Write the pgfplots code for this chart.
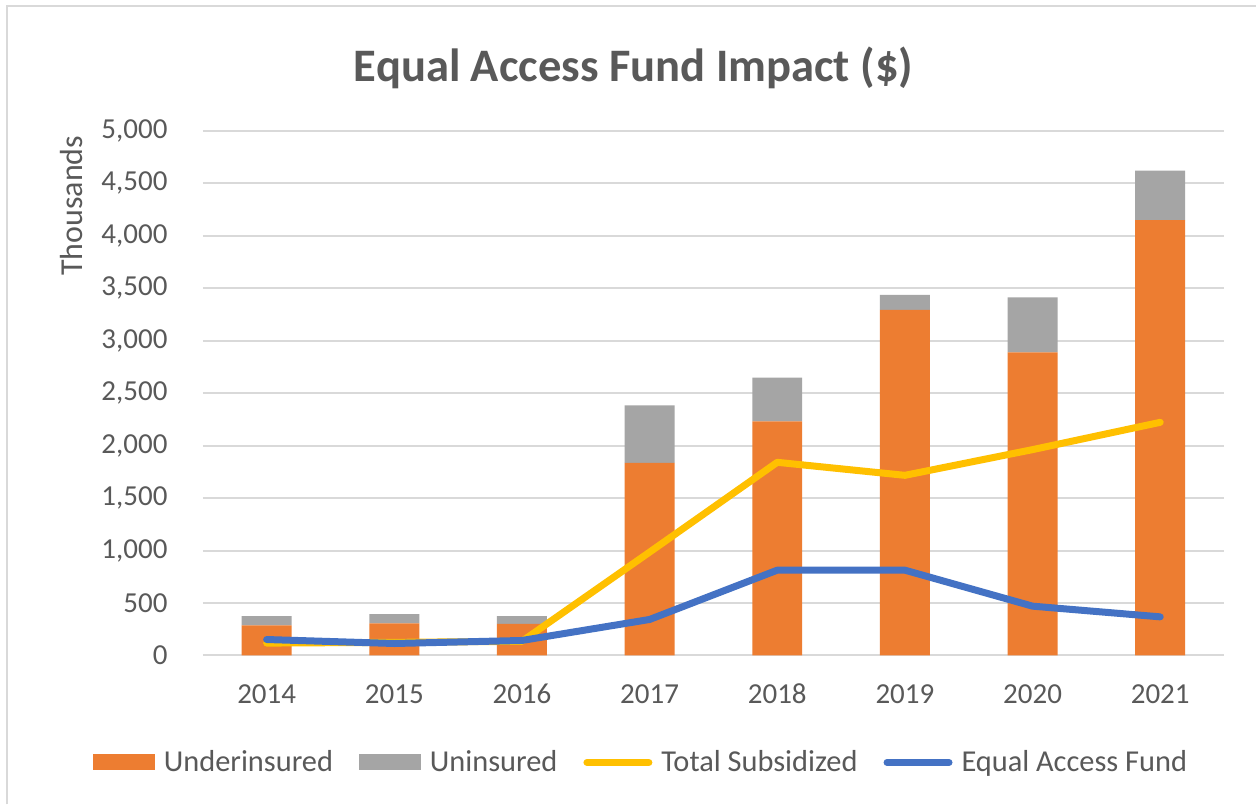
\documentclass[border=0pt]{standalone}
\usepackage{pgfplots}
\pgfplotsset{compat=1.18}
\usepackage{fontspec}
\setmainfont{Carlito}
\definecolor{cOrange}{HTML}{ED7D31}
\definecolor{cGray}{HTML}{A5A5A5}
\definecolor{cYellow}{HTML}{FFC000}
\definecolor{cBlue}{HTML}{4472C4}
\definecolor{cText}{HTML}{595959}
\definecolor{cGrid}{HTML}{D9D9D9}
\definecolor{cFrame}{HTML}{D9D9D9}
\pgfplotsset{
  barlegend/.style={legend image code/.code={\fill[##1] (0pt,-4pt) rectangle (31pt,4pt);}},
  linelegend/.style={legend image code/.code={\draw[##1, line cap=round] (0pt,0pt) -- (31pt,0pt);}},
  common/.style={
    scale only axis, width=511pt, height=262.5pt,
    at={(101.5pt,74.5pt)}, anchor=south west,
    xmin=-0.5, xmax=7.5, ymin=0, ymax=5000,
  }
}
\begin{document}
\begin{tikzpicture}[x=1pt,y=1pt]
\fill[white] (0,0) rectangle (628.5,402.5);
\draw[cFrame, line width=1pt] (3.5,0) -- (3.5,399.5) -- (628.5,399.5);
\node[text=cText, font=\fontsize{23.3}{27}\selectfont\bfseries] at (317,368.5) {Equal Access Fund Impact (\$)};
\node[text=cText, rotate=90, font=\fontsize{16}{19}\selectfont] at (36,299.5) {Thousands};
\begin{axis}[common,
  ybar stacked, bar width=25pt,
  axis line style={draw=none},
  major tick length=0pt, tick style={draw=none},
  ymajorgrids, major grid style={cGrid, line width=1pt},
  xtick={0,...,7}, xticklabels={2014,2015,2016,2017,2018,2019,2020,2021},
  ytick={0,500,...,5000},
  /pgf/number format/.cd, 1000 sep={,}, assume math mode=true, /pgfplots/.cd,
  ticklabel style={font=\fontsize{14.5}{17}\selectfont, text=cText},
  yticklabel style={anchor=east, inner sep=0pt, xshift=-17.5pt},
  xticklabel style={anchor=base, inner sep=0pt, yshift=-24pt},
  legend style={at={(0.4325,-0.204)}, anchor=center, draw=none, fill=none,
    font=\fontsize{15.2}{18}\selectfont, text=cText,
    legend columns=4,
    /tikz/every even column/.append style={column sep=8.5pt},
    nodes={inner xsep=4.5pt}},
  legend cell align=left,
]
\addplot[fill=cOrange, draw=none, barlegend] coordinates {(0,286) (1,305) (2,302) (3,1835) (4,2232) (5,3295) (6,2889) (7,4150)};
\addlegendentry{Underinsured}
\addplot[fill=cGray, draw=none, barlegend] coordinates {(0,88) (1,88) (2,72) (3,549) (4,416) (5,143) (6,524) (7,472)};
\addlegendentry{Uninsured}
\addlegendimage{cYellow, line width=3.5pt, linelegend}
\addlegendentry{Total Subsidized}
\addlegendimage{cBlue, line width=3.5pt, linelegend}
\addlegendentry{Equal Access Fund}
\end{axis}
\begin{axis}[common, hide axis]
\addplot[cYellow, line width=3.5pt, line cap=round, line join=round] coordinates {(0,118) (1,125) (2,135) (3,985) (4,1841) (5,1717) (6,1962) (7,2222)};
\addplot[cBlue, line width=3.5pt, line cap=round, line join=round] coordinates {(0,152) (1,114) (2,143) (3,343) (4,813) (5,813) (6,470) (7,368)};
\end{axis}
\end{tikzpicture}
\end{document}
